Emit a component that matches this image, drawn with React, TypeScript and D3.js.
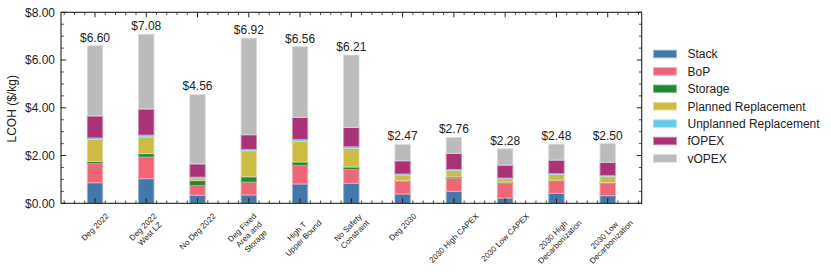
import React from "react";
import * as d3 from "d3";

const categories = [
  "Deg 2022",
  "Deg 2022\nWest LZ",
  "No Deg 2022",
  "Deg Fixed\nArea and\nStorage",
  "High T\nUpper Bound",
  "No Safety\nConstraint",
  "Deg 2030",
  "2030 High CAPEX",
  "2030 Low CAPEX",
  "2030 High\nDecarbonization",
  "2030 Low\nDecarbonization",
];

const seriesNames = ["Stack", "BoP", "Storage", "Planned Replacement", "Unplanned Replacement", "fOPEX", "vOPEX"];
const seriesColors = ["#4477AA", "#EE6677", "#228833", "#CCBB44", "#66CCEE", "#AA3377", "#BBBBBB"];

const stackCost = [0.86, 1.03, 0.34, 0.35, 0.81, 0.84, 0.39, 0.5, 0.22, 0.42, 0.32];
const bopCost = [0.81, 0.91, 0.41, 0.54, 0.78, 0.58, 0.53, 0.56, 0.64, 0.53, 0.53];
const storageCost = [0.08, 0.14, 0.2, 0.22, 0.14, 0.1, 0.03, 0.05, 0.03, 0.02, 0.02];
const plannedCost = [0.92, 0.7, 0.11, 1.09, 0.87, 0.78, 0.24, 0.26, 0.14, 0.24, 0.26];
const unplannedCost = [0.07, 0.08, 0.04, 0.06, 0.08, 0.07, 0.04, 0.05, 0.03, 0.04, 0.04];
const fopexCost = [0.92, 1.09, 0.55, 0.61, 0.92, 0.81, 0.55, 0.67, 0.54, 0.56, 0.55];
const vopexCost = [2.94, 3.13, 2.91, 4.05, 2.96, 3.03, 0.69, 0.67, 0.68, 0.67, 0.78];

const yTicks = [0, 2, 4, 6, 8];

const FONT = "'Liberation Sans', Arial, Helvetica, sans-serif";

let measureCtx: CanvasRenderingContext2D | null = null;
function measure(text: string, size: number): number {
  if (!measureCtx) {
    const c = document.createElement("canvas");
    measureCtx = c.getContext("2d");
  }
  if (!measureCtx) return text.length * size * 0.55;
  measureCtx.font = `${size}px 'Liberation Sans', Arial, sans-serif`;
  return measureCtx.measureText(text).width;
}

export default function App() {
  const W = 831;
  const H = 272;
  const left = 61;
  const right = 641.7;
  const top = 12.3;
  const bottom = 203.3;

  const x = d3.scaleLinear().domain([-0.663, 10.663]).range([left, right]);
  const y = d3.scaleLinear().domain([0, 8]).range([bottom, top]);

  const table = categories.map((c, i) => ({
    cat: c,
    idx: i,
    Stack: stackCost[i],
    BoP: bopCost[i],
    Storage: storageCost[i],
    "Planned Replacement": plannedCost[i],
    "Unplanned Replacement": unplannedCost[i],
    fOPEX: fopexCost[i],
    vOPEX: vopexCost[i],
  }));
  const stacked = d3.stack<any>().keys(seriesNames)(table);
  const totals = table.map((r) => seriesNames.reduce((s, k) => s + (r as any)[k], 0));

  const barW = x(0.3) - x(0);
  const axisColor = "#222";
  const majorLen = 5;
  const minorLen = 2.8;

  const xMinor = d3.range(-3, 54).map((k) => k * 0.2).filter((v) => v >= -0.663 && v <= 10.663 && Math.abs(v - Math.round(v)) > 1e-6);
  const xMajor = d3.range(0, 11);
  const yMinor = d3.range(0, 16.5).map((k) => k * 0.5).filter((v) => v % 2 !== 0);

  const labelSize = 8;
  const lineH = labelSize * 1.2;

  return (
    <svg width={W} height={H} style={{ position: "absolute", left: 0, top: 0, background: "#fff" }} fontFamily={FONT}>
      {/* bars */}
      {stacked.map((layer, li) => (
        <g key={seriesNames[li]}>
          {layer.map((d, i) => (
            <rect
              key={i}
              x={x(i) - barW / 2}
              y={y(d[1])}
              width={barW}
              height={Math.max(0, y(d[0]) - y(d[1]))}
              fill={seriesColors[li]}
              stroke={d3.interpolateRgb(seriesColors[li], "#ffffff")(0.45)}
              strokeWidth={0.9}
            />
          ))}
        </g>
      ))}
      {/* total labels */}
      {totals.map((t, i) => (
        <text key={i} x={x(i)} y={y(t) - 4} textAnchor="middle" fontSize={12} fill="#222">
          {"$" + (Math.round(t * 100) / 100).toFixed(2)}
        </text>
      ))}
      {/* frame */}
      <rect x={left} y={top} width={right - left} height={bottom - top} fill="none" stroke={axisColor} strokeWidth={1.1} />
      {/* x ticks */}
      {xMajor.map((v) => (
        <g key={"xm" + v}>
          <line x1={x(v)} x2={x(v)} y1={bottom} y2={bottom - majorLen} stroke={axisColor} strokeWidth={1} />
          <line x1={x(v)} x2={x(v)} y1={top} y2={top + majorLen} stroke={axisColor} strokeWidth={1} />
        </g>
      ))}
      {xMinor.map((v, k) => (
        <g key={"xn" + k}>
          <line x1={x(v)} x2={x(v)} y1={bottom} y2={bottom - minorLen} stroke={axisColor} strokeWidth={0.8} />
          <line x1={x(v)} x2={x(v)} y1={top} y2={top + minorLen} stroke={axisColor} strokeWidth={0.8} />
        </g>
      ))}
      {/* y ticks */}
      {yTicks.map((v) => (
        <g key={"ym" + v}>
          <line x1={left} x2={left + majorLen} y1={y(v)} y2={y(v)} stroke={axisColor} strokeWidth={1} />
          <line x1={right} x2={right - majorLen} y1={y(v)} y2={y(v)} stroke={axisColor} strokeWidth={1} />
          <text x={left - 6} y={y(v) + 4.3} textAnchor="end" fontSize={12} fill="#222">
            {"$" + v.toFixed(2)}
          </text>
        </g>
      ))}
      {yMinor.map((v, k) => (
        <g key={"yn" + k}>
          <line x1={left} x2={left + minorLen} y1={y(v)} y2={y(v)} stroke={axisColor} strokeWidth={0.8} />
          <line x1={right} x2={right - minorLen} y1={y(v)} y2={y(v)} stroke={axisColor} strokeWidth={0.8} />
        </g>
      ))}
      {/* y label */}
      <text transform={`translate(16, ${(top + bottom) / 2 + 1}) rotate(-90)`} textAnchor="middle" fontSize={12} fill="#222">
        LCOH ($/kg)
      </text>
      {/* x labels */}
      {categories.map((c, i) => {
        const lines = c.split("\n");
        const w = Math.max(...lines.map((l) => measure(l, labelSize)));
        const h = lines.length * lineH;
        const half = (w + h) / (2 * Math.SQRT2);
        const cy = bottom + 8 + half;
        return (
          <g key={"xl" + i} transform={`translate(${x(i)}, ${cy}) rotate(-45)`}>
            {lines.map((l, j) => (
              <text key={j} x={0} y={-h / 2 + lineH * (j + 0.5) + labelSize * 0.35} textAnchor="middle" fontSize={labelSize} fill="#222">
                {l}
              </text>
            ))}
          </g>
        );
      })}
      {/* legend */}
      {seriesNames.map((n, i) => {
        const cy = 54 + i * 17.4;
        return (
          <g key={"lg" + n}>
            <rect x={653.5} y={cy - 3.8} width={23} height={7.6} fill={seriesColors[i]} stroke={d3.interpolateRgb(seriesColors[i], "#ffffff")(0.45)} strokeWidth={0.9} />
            <text x={687.5} y={cy + 4.3} fontSize={12} fill="#222">
              {n}
            </text>
          </g>
        );
      })}
    </svg>
  );
}
